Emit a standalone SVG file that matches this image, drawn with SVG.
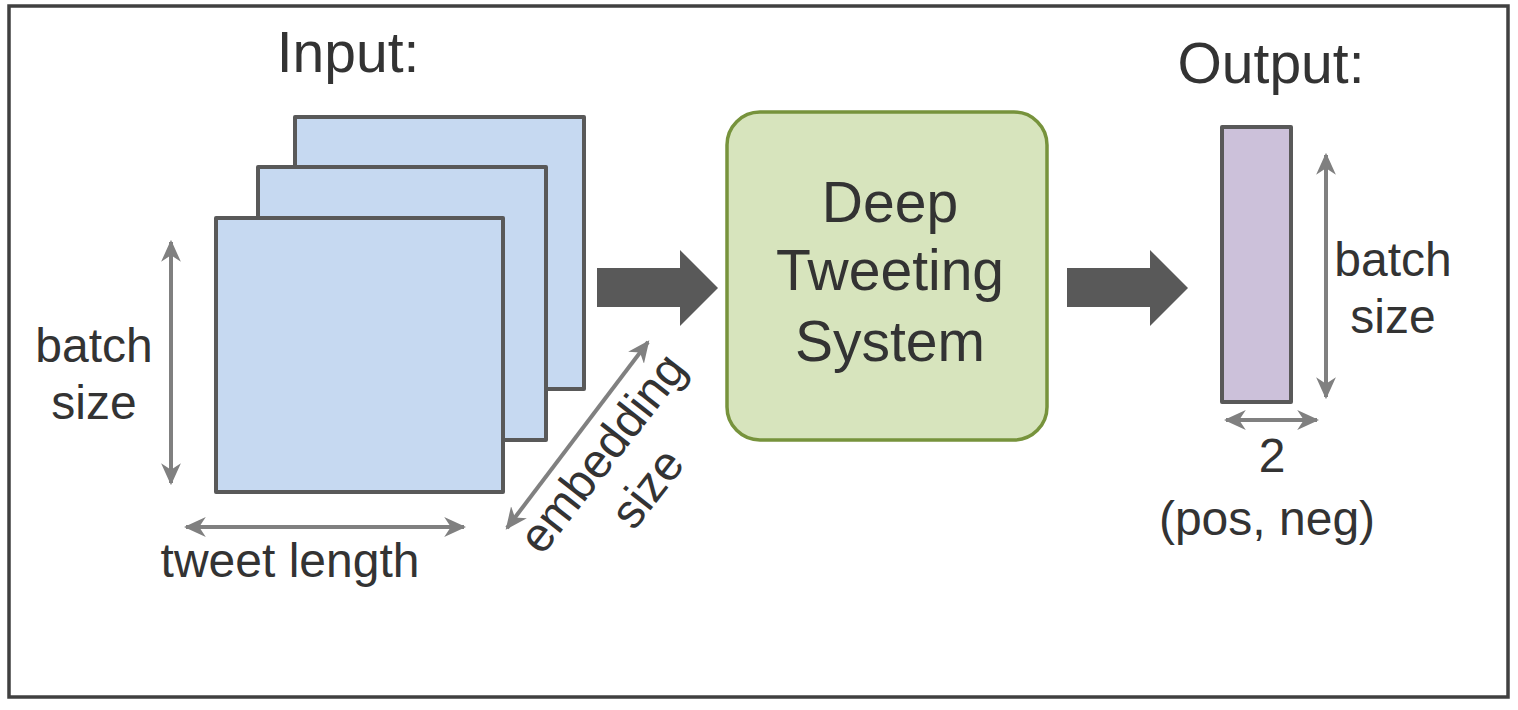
<svg xmlns="http://www.w3.org/2000/svg" width="1518" height="710" viewBox="0 0 1518 710">
  <defs>
    <style>
      .t { font-family: "Liberation Sans", Arial, sans-serif; fill: #333333; text-anchor: middle; }
      .big { font-size: 57px; }
      .lbl { font-size: 48px; }
      .sq { fill: #c6d9f1; stroke: #595959; stroke-width: 4; stroke-linejoin: round; }
      .dim { stroke: #808080; stroke-width: 4; fill: none; marker-start: url(#ah); marker-end: url(#ah); }
      .flow { fill: #595959; }
    </style>
    <marker id="ah" viewBox="0 0 20 20" refX="18" refY="10" markerWidth="22" markerHeight="22" markerUnits="userSpaceOnUse" orient="auto-start-reverse">
      <path d="M0,1 L20,10 L0,19 L6,10 Z" fill="#808080"/>
    </marker>
  </defs>

  <rect id="frame" x="9" y="6" width="1499" height="691" fill="#ffffff" stroke="#404040" stroke-width="3.5"/>

  <g id="input-title">
    <text class="t big" x="348" y="72">Input:</text>
  </g>

  <g id="input-stack">
    <rect class="sq" x="295" y="117" width="289" height="272"/>
    <rect class="sq" x="258" y="167" width="288" height="273"/>
    <rect class="sq" x="216" y="218" width="287" height="274"/>
  </g>

  <g id="label-batch-left">
    <text class="t lbl" x="94" y="362">batch</text>
    <text class="t lbl" x="94" y="419">size</text>
  </g>

  <g id="label-tweet-length">
    <text class="t lbl" x="290" y="577">tweet length</text>
  </g>

  <g id="label-embedding">
    <text class="t lbl" transform="translate(615,463) rotate(-52)" x="0" y="0">embedding</text>
    <text class="t lbl" transform="translate(615,463) rotate(-52)" x="0" y="57">size</text>
  </g>

  <g id="system">
    <rect x="727" y="112" width="320" height="328" rx="33" ry="33" fill="#d7e4bd" stroke="#77933c" stroke-width="3.5"/>
    <text class="t big" x="890" y="222">Deep</text>
    <text class="t big" x="890" y="290">Tweeting</text>
    <text class="t big" x="890" y="361">System</text>
  </g>

  <g id="output-title">
    <text class="t big" x="1271" y="83">Output:</text>
  </g>

  <g id="output-vector">
    <rect x="1222" y="127" width="69" height="275" fill="#ccc1da" stroke="#595959" stroke-width="4" stroke-linejoin="round"/>
  </g>

  <g id="label-batch-right">
    <text class="t lbl" x="1393" y="276">batch</text>
    <text class="t lbl" x="1393" y="333">size</text>
  </g>

  <g id="label-two">
    <text class="t lbl" x="1272" y="472">2</text>
    <text class="t lbl" x="1267" y="535">(pos, neg)</text>
  </g>

  <g id="connectors">
    <polygon class="flow" points="597,268 680,268 680,250 718,288 680,326 680,307 597,307"/>
    <polygon class="flow" points="1067,268 1150,268 1150,250 1188,288 1150,326 1150,307 1067,307"/>
    <line class="dim" x1="171" y1="242" x2="171" y2="483"/>
    <line class="dim" x1="186" y1="527" x2="464" y2="527"/>
    <line class="dim" x1="507" y1="528" x2="648" y2="342"/>
    <line class="dim" x1="1326" y1="155" x2="1326" y2="397"/>
    <line class="dim" x1="1226" y1="420" x2="1317" y2="420"/>
  </g>
</svg>
